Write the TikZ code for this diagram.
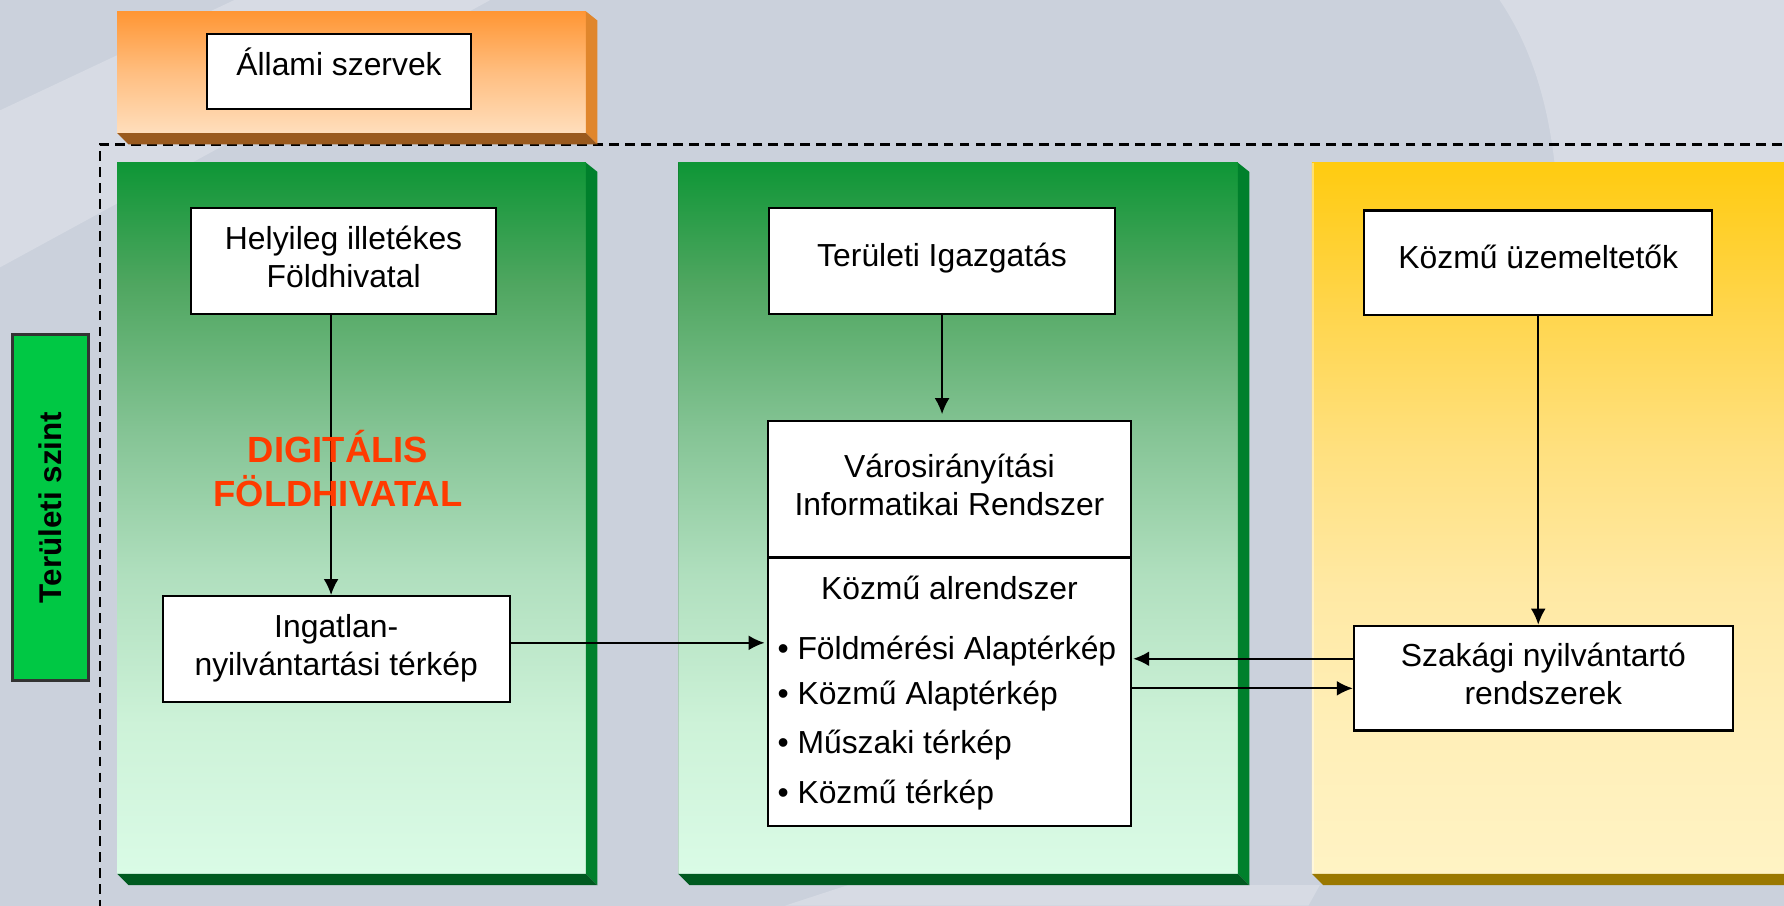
\documentclass[tikz,border=0pt]{standalone}
\usepackage{fontspec}
\setmainfont{Liberation Sans}
\usetikzlibrary{arrows.meta,calc}
\definecolor{bgc}{HTML}{CBD1DC}
\definecolor{bgl}{HTML}{D7DBE4}
\definecolor{orS}{HTML}{E0862C}
\definecolor{orD}{HTML}{9A5A1E}
\definecolor{grS}{HTML}{00802C}
\definecolor{grD}{HTML}{005A20}
\definecolor{yeD}{HTML}{9A7800}
\definecolor{lvl}{HTML}{00C844}
\definecolor{redt}{HTML}{FF3B00}
\pgfdeclareverticalshading{greensh}{100bp}{%
  color(0bp)=(rgb,255:red,218;green,251;blue,230);
  color(25bp)=(rgb,255:red,218;green,251;blue,230);
  color(35.5bp)=(rgb,255:red,205;green,242;blue,216);
  color(46bp)=(rgb,255:red,176;green,223;blue,190);
  color(56bp)=(rgb,255:red,133;green,196;blue,149);
  color(66.5bp)=(rgb,255:red,79;green,166;blue,96);
  color(75bp)=(rgb,255:red,14;green,150;blue,54);
  color(100bp)=(rgb,255:red,14;green,150;blue,54)}
\pgfdeclareverticalshading{yellowsh}{100bp}{%
  color(0bp)=(rgb,255:red,255;green,243;blue,196);
  color(25bp)=(rgb,255:red,255;green,243;blue,196);
  color(35bp)=(rgb,255:red,255;green,239;blue,184);
  color(45bp)=(rgb,255:red,255;green,233;blue,164);
  color(55bp)=(rgb,255:red,255;green,224;blue,126);
  color(65bp)=(rgb,255:red,255;green,213;blue,74);
  color(75bp)=(rgb,255:red,255;green,203;blue,16);
  color(100bp)=(rgb,255:red,255;green,203;blue,16)}
\pgfdeclareverticalshading{orangesh}{100bp}{%
  color(0bp)=(rgb,255:red,255;green,222;blue,188);
  color(25bp)=(rgb,255:red,255;green,222;blue,188);
  color(50bp)=(rgb,255:red,255;green,190;blue,128);
  color(75bp)=(rgb,255:red,255;green,150;blue,52);
  color(100bp)=(rgb,255:red,255;green,150;blue,52)}
\newcommand{\bt}[1]{\begin{tabular}{@{}c@{}}#1\end{tabular}}
\begin{document}
\begin{tikzpicture}[x=0.5pt,y=-0.5pt,
  box/.style={draw=black, line width=1pt, fill=white, inner sep=0pt, align=center,
    anchor=center, font=\fontsize{14}{16.5}\selectfont},
  txt/.style={inner sep=0pt, font=\fontsize{14}{16.5}\selectfont},
  arr/.style={-{Latex[length=7pt,width=6.5pt]}, line width=0.8pt, black},
  dashline/.style={dash pattern=on 4.3pt off 2.7pt, line width=0.9pt, black}]
\useasboundingbox (0,0) rectangle (1568,796);
\clip (0,0) rectangle (1568,796);
% background
\fill[bgc] (0,0) rectangle (1568,796);
\fill[bgl] (0,97) -- (206,0) -- (431,0) -- (0,235) -- cycle;
\fill[bgl] (1318,0) .. controls (1345,40) and (1362,90) .. (1368,160) -- (1368,796) -- (1568,796) -- (1568,0) -- cycle;
\fill[bgc] (1160,778) rectangle (1568,796);
\fill[bgl] (690,796) -- (745,778) -- (1160,778) -- (1150,796) -- cycle;
% dashed frame
\draw[dashline] (1580,127) -- (88,127) -- (88,810);
% orange panel
\shade[shading=orangesh] (103,10) rectangle (515,117);
\fill[orS] (515,10) -- (525,18) -- (525,127) -- (515,117) -- cycle;
\fill[orD] (103,117) -- (113,127) -- (525,127) -- (515,117) -- cycle;
% green panel 1
\shade[shading=greensh] (103,143) rectangle (515,768);
\fill[grS] (515,143) -- (525,151) -- (525,778) -- (515,768) -- cycle;
\fill[grD] (103,768) -- (113,778) -- (525,778) -- (515,768) -- cycle;
% green panel 2
\shade[shading=greensh] (596,143) rectangle (1088,768);
\draw[black, opacity=0.12, line width=0.6pt] (596.5,143) -- (596.5,768);
\fill[grS] (1088,143) -- (1098,151) -- (1098,778) -- (1088,768) -- cycle;
\fill[grD] (596,768) -- (606,778) -- (1098,778) -- (1088,768) -- cycle;
% yellow panel
\shade[shading=yellowsh] (1153,143) rectangle (1580,768);
\draw[white, opacity=0.4, line width=0.8pt] (1154,143) -- (1154,768);
\fill[yeD] (1153,768) -- (1163,778) -- (1580,778) -- (1580,768) -- cycle;
% level label
\node[draw=black!80, line width=1.2pt, fill=lvl, inner sep=0pt, minimum width=33.5pt, minimum height=152pt] (lvlbox) at (44.5,446) {};
\node[rotate=90, inner sep=0pt, font=\bfseries\fontsize{13.8}{16}\selectfont] (lvltxt) at (lvlbox.center) {Területi szint};
% boxes
\node[box, minimum width=116pt, minimum height=33pt] (allami) at (298,63) {\raisebox{2pt}[\height][\depth]{\bt{Állami szervek}}};
\node[box, minimum width=134pt, minimum height=46.5pt] (helyi) at (302,229.5) {\bt{Helyileg illetékes\\Földhivatal}};
\node[box, minimum width=152.5pt, minimum height=46.5pt] (ing) at (295.5,570.5) {\bt{Ingatlan-\\nyilvántartási térkép}};
\node[box, minimum width=152pt, minimum height=46.5pt] (ter) at (828,229.5) {\raisebox{1pt}[\height][\depth]{\bt{Területi Igazgatás}}};
\node[box, minimum width=159.5pt, minimum height=60pt] (varos) at (834.5,430) {\bt{Városirányítási\\Informatikai Rendszer}};
\node[box, minimum width=159.5pt, minimum height=118pt] (kozmu) at (834.5,608) {};
\node[box, minimum width=153pt, minimum height=46pt] (kuz) at (1352,231) {\raisebox{1pt}[\height][\depth]{\bt{Közmű üzemeltetők}}};
\node[box, minimum width=166.5pt, minimum height=46pt] (szak) at (1356.5,596) {\bt{Szakági nyilvántartó\\rendszerek}};
% text inside Közmű alrendszer
\node[txt] (kalr) at (834.5,517) {Közmű alrendszer};
\node[txt, anchor=west] (b1) at (683,572) {• Földmérési Alaptérkép};
\node[txt, anchor=west] (b2) at (683,612) {• Közmű Alaptérkép};
\node[txt, anchor=west] (b3) at (683,655) {• Műszaki térkép};
\node[txt, anchor=west] (b4) at (683,699) {• Közmű térkép};
% connectors
\coordinate (c1) at (291,0);
\coordinate (r1) at (0,565);
\coordinate (r2) at (0,579);
\coordinate (r3) at (0,605);
\draw[arr] (helyi.south -| c1) -- (ing.north -| c1);
\draw[arr, shorten >=2.5pt] (ter.south) -- (ter.south |- varos.north);
\draw[arr] (kuz.south) -- (kuz.south |- szak.north);
\draw[arr, shorten >=1pt] (ing.east |- r1) -- (kozmu.west |- r1);
\draw[arr, shorten >=0.5pt] (szak.west |- r2) -- (kozmu.east |- r2);
\draw[arr] (kozmu.east |- r3) -- (szak.west |- r3);
% red label
\node[inner sep=0pt, align=center, text=redt, font=\bfseries\fontsize{16}{19.5}\selectfont] (digi) at (297,412) {DIGITÁLIS\\FÖLDHIVATAL};
\end{tikzpicture}
\end{document}
